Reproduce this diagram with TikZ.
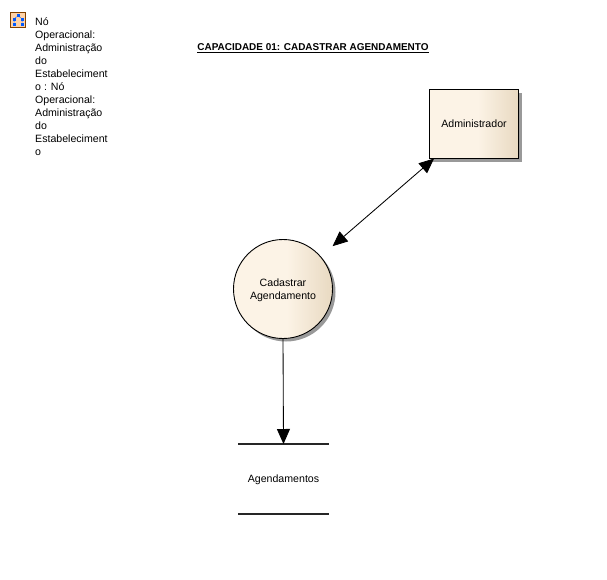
\documentclass[tikz,border=0pt]{standalone}
\usepackage{fontspec}
\setmainfont{Liberation Sans}
\usetikzlibrary{arrows.meta,shadows}
\definecolor{fillcream}{RGB}{252,243,230}
\definecolor{filltan}{RGB}{232,217,193}
\pgfdeclarehorizontalshading{creamshade}{100bp}{
    color(0bp)=(fillcream); color(25bp)=(fillcream); color(52bp)=(fillcream); color(75bp)=(filltan); color(100bp)=(filltan)}
\tikzset{
    elementbox/.style={draw,line width=.9pt,shading=creamshade,shading angle=0,
        drop shadow={shadow xshift=3pt,shadow yshift=-3pt,fill=black!40,opacity=1},
        font=\fontsize{10.6}{13}\selectfont,align=center,outer sep=0pt,inner sep=0pt},
    flowline/.style={draw=black,line width=.85pt,>={Triangle[length=15pt,width=13pt]}},
    storeline/.style={draw=black!85,line width=1.3pt}
}
\begin{document}
\begin{tikzpicture}[x=1pt,y=-1pt]
    \useasboundingbox[fill=white] (0,0) rectangle (607,579);
    \node[draw=black!50!orange,fill=orange!35,line width=.8pt,minimum size=15pt,inner sep=0pt](icon) at (18,19.5){};
    \foreach \x/\y[count=\i] in {0/-4.5,-4/0,4/0,-4/4.5,4/4.5}
        \node[fill=blue!65!cyan,minimum size=3pt,inner sep=0pt](icon\i) at ([xshift=\x pt,yshift=-\y pt]icon.center){};
    \draw[blue!65!cyan,line width=.5pt] (icon1) -- (icon2) -- (icon4) (icon1) -- (icon3) -- (icon5);
    \node[anchor=north west,align=left,inner sep=0pt,font=\fontsize{10.6}{13}\selectfont](nodelabel) at (35,17.5){%
        Nó\\Operacional:\\Administração\\do\\Estabeleciment\\o : Nó\\Operacional:\\Administração\\do\\Estabeleciment\\o};
    \node[font=\bfseries\fontsize{9.95}{13}\selectfont,inner sep=0pt](title) at (313,48){\underline{CAPACIDADE 01: CADASTRAR AGENDAMENTO}};
    \node[elementbox,minimum width=89pt,minimum height=69pt](admin) at (474,124){Administrador};
    \node[elementbox,circle,minimum size=99pt](cadastrar) at (283,289){\rule{0pt}{10pt}Cadastrar\\Agendamento};
    \node[font=\fontsize{10.6}{13}\selectfont,minimum width=91pt,minimum height=70pt,inner sep=0pt,outer sep=0pt](agendamentos) at (283.5,479){\rule{0pt}{10pt}Agendamentos};
    \draw[storeline] (agendamentos.north west) -- (agendamentos.north east);
    \draw[storeline] (agendamentos.south west) -- (agendamentos.south east);
    \draw[flowline,<->,shorten <=16pt] (cadastrar) -- (admin);
    \draw[flowline,->] (cadastrar.south) -- (agendamentos.north);
\end{tikzpicture}
\end{document}
